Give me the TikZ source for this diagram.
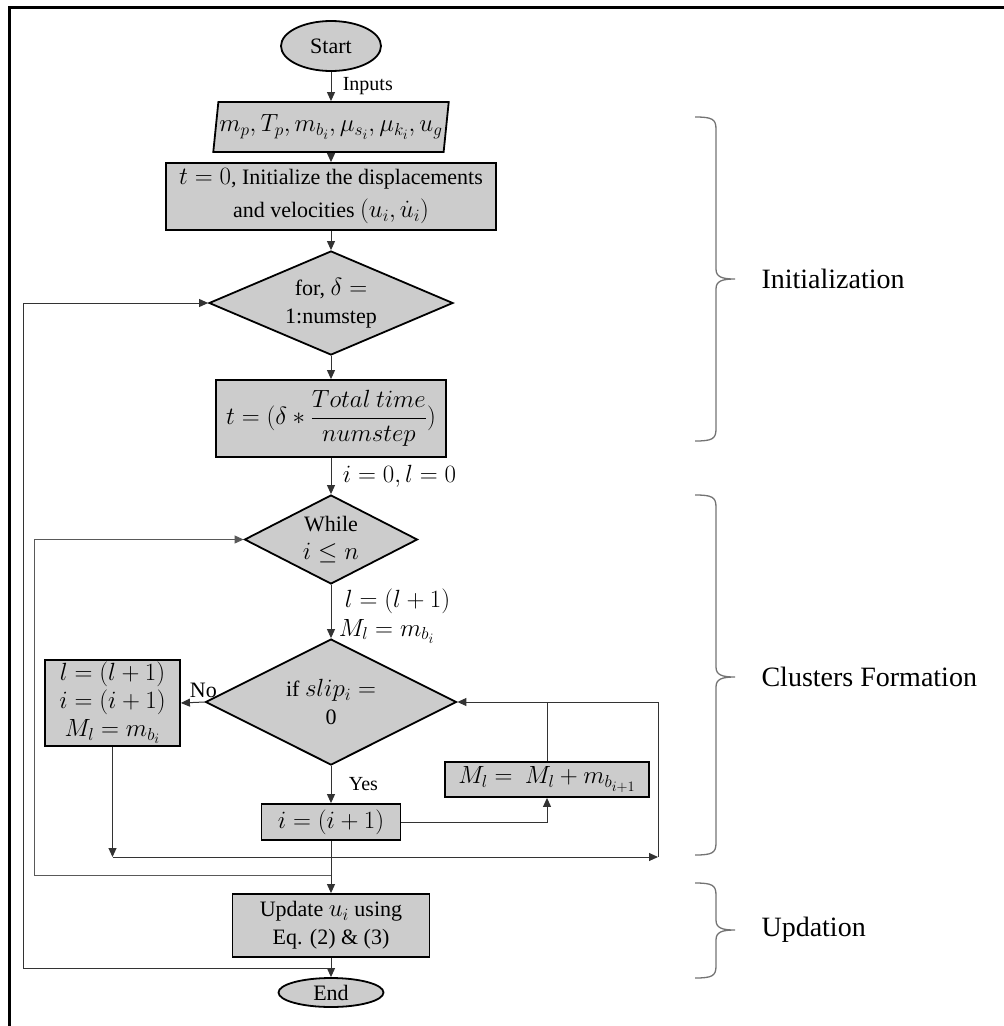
\documentclass[tikz,border=0pt]{standalone}
\usepackage{fontspec}
\setmainfont{Liberation Serif}
\DeclareMathSizes{22}{25}{18}{14}
\usetikzlibrary{shapes.geometric,arrows.meta}

\tikzset{
	term/.style={ellipse, draw, line width=1.8pt, fill=gray!40, inner sep=0pt},
	io/.style={trapezium, trapezium left angle=79, trapezium right angle=101, trapezium stretches=true, draw, line width=1.8pt, fill=gray!40, minimum width=228, minimum height=50, inner sep=1pt},
	proc/.style={rectangle, draw, line width=1.8pt, fill=gray!40, align=center, inner sep=2pt},
	dec/.style={diamond, draw, line width=1.8pt, fill=gray!40, align=center, inner sep=0pt},
	conn/.style={line width=1pt, draw=black!80},
	sidebrace/.style={line width=1.3pt, draw=black!55},
	seclabel/.style={font=\fontsize{28}{32}\selectfont},
	small/.style={font=\fontsize{20}{24}\selectfont}
}

\begin{document}
\begin{tikzpicture}[x=1pt, y=-1pt, font=\fontsize{22}{28}\selectfont, >={Triangle[length=9pt,width=8pt]}]
	\useasboundingbox (0,0) rectangle (1004,1026);
	\draw[line width=3pt] (9,1026) -- (9,7) -- (1004,7);

	% main column
	\node[term, minimum width=100, minimum height=50] (start) at (331,46) {Start};
	\node[io] (inp) at (331,127) {$m_p, T_p, m_{b_i}, \mu_{s_i}, \mu_{k_i}, u_g$};
	\node[proc, minimum width=330, minimum height=67] (init) at (331,196.5) {$t = 0$, Initialize the displacements\\[5pt]and velocities $(u_i, \dot{u}_i)$};
	\node[dec, aspect=2.35, minimum width=244, minimum height=104] (for) at (331,303) {for, $\delta =$\\1:numstep};
	\node[proc, minimum width=230, minimum height=77] (tt) at (331,418.5) {$t = (\delta * \displaystyle\frac{Total\ time}{numstep})$};
	\node[dec, aspect=1.94, minimum width=173, minimum height=89] (while) at (331,539.5) {While\\$i \le n$};
	\node[dec, aspect=2, minimum width=251, minimum height=126] (slip) at (331,702) {if $slip_i =$\\0};
	\node[proc, minimum width=135, minimum height=84] (lbox) at (112.5,703) {$l = (l+1)$\\$i = (i+1)$\\$M_l = m_{b_i}$};
	\node[proc, minimum width=139, minimum height=36] (ibox) at (331,822) {$i = (i+1)$};
	\node[proc, minimum width=204, minimum height=35] (mbox) at (547,779.5) {$M_l = \ M_l + m_{b_{i+1}}$};
	\node[proc, minimum width=197, minimum height=63] (upd) at (331,925.5) {Update $u_i$ using\\Eq. (2) \& (3)};
	\node[term, minimum width=105, minimum height=29] (end) at (331,992.5) {End};

	% connectors
	\draw[conn, ->] (start) -- node[right, xshift=8, small] {Inputs} (inp);
	\draw[conn, ->] (inp) -- (init);
	\draw[conn, ->] (init) -- (for);
	\draw[conn, ->] (for) -- (tt);
	\draw[conn, ->] (tt) -- node[right, xshift=8] {$i = 0, l = 0$} (while);
	\draw[conn, ->] (while) -- node[right, pos=0.3, xshift=10] {$l = (l+1)$} node[right, pos=0.87, xshift=4] {$M_l = m_{b_i}$} (slip);
	\draw[conn, ->] (slip.west) -- node[above, pos=0.05, yshift=1] {No} (lbox.east);
	\draw[conn, ->] (slip) -- node[right, xshift=14, small] {Yes} (ibox);
	\draw[conn, ->] (ibox) -| (mbox);
	\draw[conn, ->] (mbox) |- (slip);
	\coordinate (jr) at (658,857);
	\coordinate (jm) at (mbox.north |- slip.east);
	\draw[conn, ->] (lbox) -- (lbox |- jr);
	\draw[conn, ->] (lbox |- jr) -- (jr);
	\draw[conn] (jr) |- (jm);
	\draw[conn, ->] (ibox) -- (upd);
	\coordinate (lpa) at (331,875);
	\coordinate (lpb) at (34,875);
	\draw[conn, draw=black!65, ->] (lpa) -- (lpb) |- (while);
	\draw[conn, ->] (upd) -- (end);
	\coordinate (lqa) at (331,968);
	\coordinate (lqb) at (23,968);
	\draw[conn, ->] (lqa) -- (lqb) |- (for);

	% section braces
	\foreach \yt/\ym/\yb/\txt [count=\k] in {117/279/441/Initialization, 495/677/855/Clusters Formation, 883/930/978/Updation}{
		\draw[sidebrace] (695,\yt) .. controls (712,\yt) and (716,\yt+2) .. (716,\yt+12)
			-- (716,\ym-10) .. controls (716,\ym-2) and (722,\ym) .. (735,\ym)
			.. controls (722,\ym) and (716,\ym+2) .. (716,\ym+10)
			-- (716,\yb-12) .. controls (716,\yb-2) and (712,\yb) .. (695,\yb);
		\node[seclabel, anchor=west] (sec\k) at (758,\ym) {\txt};
	}
\end{tikzpicture}
\end{document}
